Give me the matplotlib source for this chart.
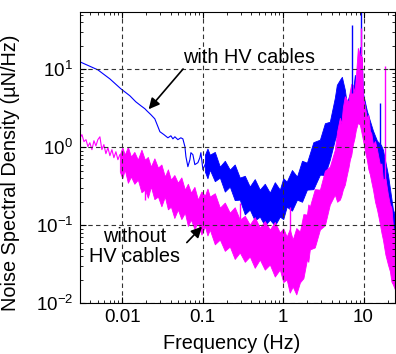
import numpy as np
import matplotlib.pyplot as plt
import matplotlib.ticker as ticker

plt.rcParams['font.family'] = ['Liberation Sans', 'DejaVu Sans']
plt.rcParams['mathtext.fontset'] = 'custom'
plt.rcParams['mathtext.rm'] = 'Liberation Sans'
plt.rcParams['axes.unicode_minus'] = False

# with HV cables: single trace at low frequency (Hz, uN/Hz)
hv_freq = [0.0030, 0.0050, 0.00706, 0.00966, 0.0125, 0.0148, 0.0171, 0.0192, 0.0203,
           0.0228, 0.0255, 0.0279, 0.0295, 0.0331, 0.0371, 0.0404, 0.0428, 0.0453,
           0.0493, 0.0537, 0.0569, 0.0603, 0.0621, 0.0657, 0.0696, 0.0716, 0.0758,
           0.0802, 0.0875, 0.0925, 0.0953, 0.101, 0.110]
hv_psd = [12.4, 9.8, 7.5, 5.6, 4.56, 3.82, 3.40, 3.11, 2.93,
          2.61, 2.31, 1.83, 1.58, 1.45, 1.32, 1.40, 1.28, 1.36,
          1.25, 1.32, 1.28, 1.02, 0.757, 0.563, 0.692, 0.851, 0.802,
          0.598, 0.634, 0.734, 0.851, 0.516, 0.634]

# with HV cables: noise band above 0.1 Hz (upper / lower envelope)
hv_band_freq = [0.107, 0.115, 0.123, 0.142, 0.164, 0.189, 0.218, 0.251, 0.290, 0.335,
                0.386, 0.445, 0.514, 0.593, 0.685, 0.790, 0.912, 1.006, 1.11, 1.29,
                1.49, 1.72, 1.98, 2.38, 2.87, 3.31, 3.81, 4.40, 4.66, 5.08, 5.38,
                5.86, 6.21, 6.39, 6.96, 7.37, 7.80, 8.26, 8.75, 9.01, 9.54, 9.82,
                11.0, 12.0, 13.1, 14.7, 16.4, 17.4, 20.1, 23.2, 24.5]
hv_band_hi = [0.802, 0.96, 0.802, 0.87, 0.563, 0.67, 0.516, 0.60, 0.408, 0.43,
              0.313, 0.39, 0.286, 0.34, 0.262, 0.356, 0.286, 0.40, 0.362, 0.51,
              0.420, 0.67, 0.634, 1.16, 1.25, 2.03, 2.12, 4.30, 6.30, 7.30, 7.97,
              5.44, 3.49, 4.05, 5.44, 4.98, 8.45, 4.43, 7.30, 19.3, 13.1, 4.98,
              2.93, 2.18, 1.63, 1.21, 1.08, 0.930, 0.445, 0.159, 0.137]
hv_band_lo = [0.486, 0.40, 0.516, 0.367, 0.408, 0.27, 0.313, 0.21, 0.213, 0.138,
              0.159, 0.115, 0.129, 0.099, 0.118, 0.099, 0.129, 0.12, 0.173, 0.154,
              0.213, 0.20, 0.286, 0.29, 0.445, 0.44, 0.692, 1.25, 1.45, 1.67, 1.78,
              1.94, 2.06, 2.12, 2.25, 2.38, 2.46, 2.61, 3.02, 3.20, 3.02, 2.25,
              1.25, 0.930, 0.734, 0.563, 0.445, 0.384, 0.137, 0.0364, 0.0314]
hv_spike_freq = [7.16, 9.27, 16.0]
hv_spike_base = [5.0, 15.0, 1.1]
hv_spike_top = [36.8, 60.0, 3.71]

# without HV cables: single trace at low frequency
nohv_freq = [0.0030, 0.00317, 0.00336, 0.00356, 0.00376, 0.00398, 0.00422, 0.00447,
             0.00473, 0.0050, 0.0053, 0.00561, 0.00594, 0.00629, 0.00667, 0.00706,
             0.00747, 0.00791, 0.00838, 0.00887, 0.00938]
nohv_psd = [1.32, 1.45, 1.18, 1.25, 1.02, 1.14, 0.930, 1.21,
            1.04, 1.25, 1.36, 0.930, 1.08, 0.826, 0.986, 0.778,
            0.930, 0.734, 0.875, 0.692, 0.802]

# without HV cables: noise band
nohv_band_freq = [0.00938, 0.01007, 0.0108, 0.0118, 0.0129, 0.0142, 0.0157, 0.0174,
                  0.0192, 0.0209, 0.0228, 0.0252, 0.0279, 0.0308, 0.0340, 0.0371,
                  0.0404, 0.0446, 0.0493, 0.0545, 0.0603, 0.0657, 0.0716, 0.0792,
                  0.0875, 0.0968, 0.107, 0.115, 0.123, 0.142, 0.164, 0.189, 0.218,
                  0.251, 0.290, 0.335, 0.386, 0.445, 0.514, 0.593, 0.685, 0.790,
                  0.912, 1.006, 1.11, 1.21, 1.32, 1.46, 1.62, 1.79, 1.98, 2.06, 2.15,
                  2.48, 2.87, 3.31, 3.81, 4.40, 4.70, 5.08, 5.30, 5.53, 5.85, 6.21,
                  6.50, 6.76, 7.05, 7.37, 7.70, 8.03, 8.50, 9.01, 9.54, 9.82, 10.4,
                  11.0, 11.5, 12.0, 12.5, 13.1, 13.9, 14.7, 15.3, 16.0, 16.7, 17.4,
                  18.7, 20.1, 21.3, 22.2, 23.2, 24.5]
nohv_band_hi = [0.802, 1.00, 0.802, 1.01, 0.757, 0.87, 0.692, 0.93,
                0.692, 0.75, 0.563, 0.72, 0.547, 0.60, 0.420, 0.52,
                0.384, 0.44, 0.351, 0.41, 0.286, 0.34, 0.262, 0.31,
                0.213, 0.27, 0.240, 0.295, 0.233, 0.257, 0.168, 0.195, 0.145,
                0.17, 0.118, 0.132, 0.102, 0.127, 0.0933, 0.113, 0.0881, 0.11,
                0.0807, 0.091, 0.0716, 0.089, 0.0656, 0.092, 0.083, 0.139, 0.137, 0.185, 0.173,
                0.29, 0.286, 0.50, 0.563, 0.930, 1.6, 2.38, 2.0, 3.20, 4.5, 4.05,
                3.8, 5.28, 6.5, 6.30, 5.0, 7.97, 18.7, 15.2, 14.4, 4.69, 3.3,
                2.38, 2.6, 1.63, 1.5, 1.08, 1.2, 0.930, 0.75, 0.598, 0.62, 0.384,
                0.40, 0.247, 0.184, 0.17, 0.0962, 0.0760]
nohv_band_lo = [0.486, 0.40, 0.516, 0.35, 0.420, 0.34, 0.384, 0.265,
                0.286, 0.225, 0.313, 0.216, 0.233, 0.175, 0.233, 0.16,
                0.173, 0.124, 0.159, 0.12, 0.145, 0.098, 0.118, 0.09,
                0.108, 0.076, 0.0962, 0.074, 0.0881, 0.057, 0.0656, 0.047, 0.0534,
                0.037, 0.0448, 0.034, 0.0398, 0.0285, 0.0364, 0.027, 0.0314, 0.022,
                0.0271, 0.0187, 0.0202, 0.0137, 0.0164, 0.013, 0.0185, 0.021, 0.0364, 0.034, 0.0489,
                0.052, 0.0881, 0.10, 0.184, 0.247, 0.20, 0.213, 0.24, 0.286, 0.33, 0.445,
                0.55, 0.692, 0.8, 1.08, 1.3, 1.67, 2.06, 1.94, 1.45, 1.25, 0.9,
                0.692, 0.52, 0.445, 0.36, 0.286, 0.20, 0.159, 0.13, 0.102, 0.08, 0.0656,
                0.042, 0.0314, 0.0256, 0.019, 0.0174, 0.0151]
nohv_spike_freq = [0.0192, 0.290, 1.21, 9.27, 18.4]
nohv_spike_base = [0.30, 0.12, 0.07, 15.0, 0.35]
nohv_spike_top = [0.213, 0.195, 0.173, 33.7, 11.0]

fig = plt.figure(figsize=(3.96, 3.54), dpi=100)
ax = fig.add_axes([80 / 396, 1 - 303.3 / 354, 315 / 396, 291.3 / 354])

blue = '#0000ff'
magenta = '#ff00ff'

ax.plot(hv_freq, hv_psd, color=blue, lw=0.8)
ax.fill_between(hv_band_freq, hv_band_lo, hv_band_hi, color=blue, lw=0.6)
ax.vlines(hv_spike_freq, hv_spike_base, hv_spike_top, color=blue, lw=1.0)

ax.plot(nohv_freq, nohv_psd, color=magenta, lw=0.8)
ax.fill_between(nohv_band_freq, nohv_band_lo, nohv_band_hi, color=magenta, lw=0.6)
ax.vlines(nohv_spike_freq, nohv_spike_base, nohv_spike_top, color=magenta, lw=1.0)

ax.set_xscale('log')
ax.set_yscale('log')
ax.set_xlim(0.003, 24.6)
ax.set_ylim(0.01, 54)

ax.xaxis.set_major_formatter(ticker.FuncFormatter(lambda v, _: '{:g}'.format(v)))
ax.xaxis.set_minor_formatter(ticker.NullFormatter())
ax.yaxis.set_minor_formatter(ticker.NullFormatter())

ax.set_axisbelow(False)
ax.grid(True, which='major', color='#333333', linestyle=(0, (4, 3)), lw=0.8)
ax.tick_params(which='both', direction='in', top=True, right=True, labelsize=13.5)
ax.tick_params(which='major', length=4)
ax.tick_params(which='minor', length=2.2)
ax.tick_params(axis='x', pad=4)
ax.tick_params(axis='y', pad=5)
for sp in ax.spines.values():
    sp.set_linewidth(0.8)

ax.set_xlabel('Frequency (Hz)', fontsize=14.3)
ax.set_ylabel('Noise Spectral Density (\u00b5N/Hz)', fontsize=14.3)
ax.xaxis.set_label_coords(151.7 / 315, -0.105)
ax.yaxis.set_label_coords(-0.19, 1 - 161 / 291.3)

# labels with arrows
ax.text(0.0569, 12.0, 'with HV cables', fontsize=14.3, ha='left', va='baseline')
ax.annotate('', xy=(0.0203, 2.88), xytext=(0.0603, 10.7),
            arrowprops=dict(arrowstyle='-|>', color='black', lw=1.2, mutation_scale=16))
ax.text(0.0144, 0.0336, 'without\nHV cables', fontsize=14.3, ha='center', va='baseline',
        multialignment='center', linespacing=1.05)
ax.annotate('', xy=(0.104, 0.102), xytext=(0.0603, 0.0566),
            arrowprops=dict(arrowstyle='-|>', color='black', lw=1.2, mutation_scale=16))

fig.savefig('out.png', dpi=100)
